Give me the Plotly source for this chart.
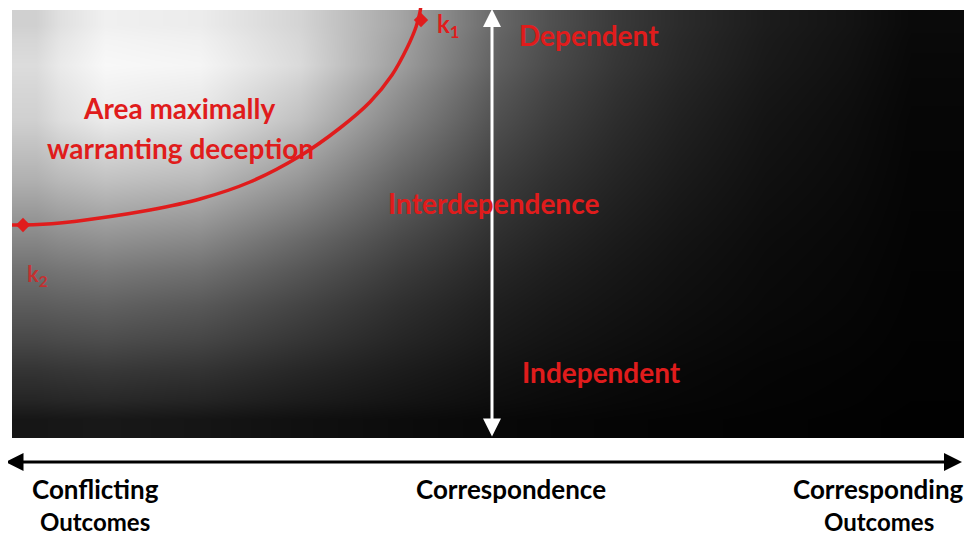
import plotly.graph_objects as go

# background brightness (0 = black, 255 = white)
grey_x_edges = [12, 60, 150, 250, 350, 450, 550, 680, 850, 972]
grey_y_edges = [10, 40, 90, 150, 210, 270, 340, 400, 438]
grey_levels = [
    [208, 240, 236, 212, 165, 102, 58, 28, 10],
    [220, 248, 245, 218, 158, 94, 54, 25, 8],
    [208, 235, 228, 192, 132, 78, 45, 20, 6],
    [176, 193, 185, 150, 100, 60, 36, 16, 5],
    [134, 145, 136, 105, 72, 45, 27, 12, 4],
    [92, 97, 88, 68, 47, 30, 19, 9, 3],
    [52, 56, 51, 39, 28, 18, 11, 5, 2],
    [22, 24, 21, 16, 12, 8, 5, 3, 1],
]

# deception boundary curve, k2 -> k1
curve_x = [12, 23, 60, 100, 150, 200, 250, 300, 340, 370, 392, 407, 416, 420, 421]
curve_y = [225, 225, 223, 218, 210, 199, 182, 156, 128, 102, 75, 48, 27, 12, 4]
end_x = [23, 421]
end_y = [225, 20]

RED = "#e01c1c"
FONT = "Lato"

# the page has an 8px body margin; keep the figure inside the window
OFF = 8

fig = go.Figure()

fig.add_trace(go.Heatmap(
    x=grey_x_edges, y=grey_y_edges, z=grey_levels,
    zmin=0, zmax=255, zsmooth="best",
    colorscale=[[0, "black"], [1, "white"]],
    showscale=False, hoverinfo="skip",
))
fig.add_trace(go.Scatter(
    x=curve_x, y=curve_y, mode="lines",
    line={"color": RED, "width": 3.5, "shape": "spline"},
    hoverinfo="skip",
))
fig.add_trace(go.Scatter(
    x=end_x, y=end_y, mode="markers",
    marker={"color": RED, "size": 11, "symbol": "diamond"},
    hoverinfo="skip",
))

# vertical interdependence arrow (white, two heads)
fig.add_annotation(
    x=492, y=9, ax=492, ay=438, xref="x", yref="y", axref="x", ayref="y",
    text="", showarrow=True, arrowhead=2, startarrowhead=2, arrowside="end+start",
    arrowsize=1.2, startarrowsize=1.2, arrowwidth=3, arrowcolor="white",
)
# horizontal correspondence arrow (black, two heads)
fig.add_annotation(
    x=962, y=462, ax=4, ay=462, xref="x", yref="y", axref="x", ayref="y",
    text="", showarrow=True, arrowhead=2, startarrowhead=2, arrowside="end+start",
    arrowsize=1.2, startarrowsize=1.2, arrowwidth=3, arrowcolor="black",
)

labels = [
    ("<b>Area maximally</b>", 179, 108, RED, 28),
    ("<b>warranting deception</b>", 180, 148, RED, 28),
    ("<b>Dependent</b>", 589, 35, RED, 28),
    ("<b>Interdependence</b>", 493, 203, RED, 28),
    ("<b>Independent</b>", 601, 372, RED, 28),
    ("<b>k<sub>1</sub></b>", 448, 25, RED, 24),
    ("<b>k<sub>2</sub></b>", 37, 275, "rgba(224,28,28,0.75)", 22),
    ("<b>Conflicting</b>", 95, 489, "black", 26),
    ("<b>Outcomes</b>", 95, 521, "black", 24),
    ("<b>Correspondence</b>", 511, 489, "black", 26),
    ("<b>Corresponding</b>", 878, 489, "black", 26),
    ("<b>Outcomes</b>", 879, 521, "black", 24),
]
for txt, lx, ly, col, size in labels:
    fig.add_annotation(
        x=lx, y=ly, xref="x", yref="y", text=txt, showarrow=False,
        xanchor="center", yanchor="middle",
        font={"family": FONT, "size": size, "color": col},
    )

fig.update_layout(
    width=972 - 2 * OFF, height=544 - 2 * OFF,
    margin={"l": 0, "r": 0, "t": 0, "b": 0},
    paper_bgcolor="white", plot_bgcolor="white",
    showlegend=False,
    xaxis={"range": [OFF, 972 - OFF], "visible": False, "fixedrange": True},
    yaxis={"range": [544 - OFF, OFF], "visible": False, "fixedrange": True},
)

fig.write_html("out.html")
